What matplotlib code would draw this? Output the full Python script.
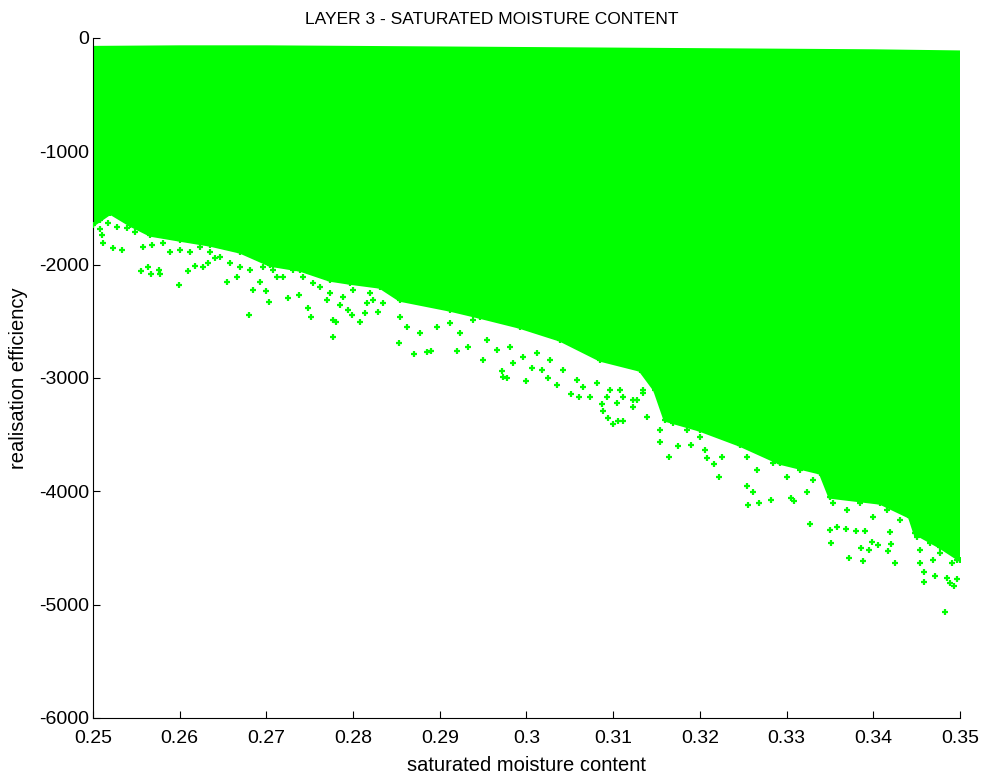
"""Layer 3 scatter: saturated moisture content vs realisation efficiency."""

import matplotlib
matplotlib.use("Agg")
import matplotlib.pyplot as plt
from matplotlib.ticker import FuncFormatter

plt.rcParams["font.family"] = ["Liberation Sans", "DejaVu Sans"]
plt.rcParams["axes.unicode_minus"] = False

GREEN = "#00ff00"

# top edge of the dense cloud
upper_x = [0.2500, 0.2600, 0.2700, 0.2800, 0.2900, 0.3000, 0.3100, 0.3200, 0.3300, 0.3400, 0.3500]
upper_y = [-85, -80, -80, -85, -90, -95, -100, -105, -110, -115, -125]

# bottom edge of the dense cloud (where points merge into a solid mass)
lower_x = [0.2500, 0.2520, 0.2543, 0.2566, 0.2600, 0.2635, 0.2670, 0.2704, 0.2739, 0.2773,
           0.2796, 0.2831, 0.2854, 0.2912, 0.2946, 0.2992, 0.3039, 0.3085, 0.3131, 0.3148,
           0.3160, 0.3200, 0.3246, 0.3292, 0.3339, 0.3350, 0.3408, 0.3442, 0.3448, 0.3477,
           0.3500]
lower_y = [-1650, -1544, -1650, -1738, -1782, -1826, -1888, -2003, -2047, -2135,
           -2162, -2197, -2312, -2400, -2462, -2550, -2665, -2841, -2930, -3106,
           -3371, -3459, -3591, -3750, -3838, -4050, -4103, -4227, -4368, -4491,
           -4606]

# ragged fringe just under the dense cloud
fringe_x = [0.2508, 0.2517, 0.2528, 0.2539, 0.2548, 0.2558, 0.2568, 0.2581, 0.2589, 0.2600,
            0.2612, 0.2623, 0.2635, 0.2646, 0.2658, 0.2670, 0.2681, 0.2696, 0.2708, 0.2719,
            0.2731, 0.2742, 0.2754, 0.2762, 0.2773, 0.2788, 0.2800, 0.2816, 0.2823, 0.2820,
            0.2835, 0.2854, 0.2862, 0.2877, 0.2897, 0.2912, 0.2923, 0.2938, 0.2954, 0.2966,
            0.2981, 0.2996, 0.3012, 0.3027, 0.3042, 0.3058, 0.3065, 0.3081, 0.3096, 0.3111,
            0.3127, 0.3134, 0.3093, 0.3108, 0.3123, 0.3134, 0.3154, 0.3169, 0.3185, 0.3200,
            0.3215, 0.3231, 0.3254, 0.3266, 0.3284, 0.3300, 0.3315, 0.3330, 0.3354, 0.3370,
            0.3385, 0.3400, 0.3416, 0.3431, 0.3450, 0.3454, 0.3465, 0.3477, 0.3488, 0.3497]
fringe_y = [-1606, -1632, -1668, -1677, -1712, -1844, -1826, -1809, -1888, -1871,
            -1888, -1844, -1888, -1932, -1985, -2021, -2047, -2021, -2047, -2109,
            -2047, -2109, -2162, -2197, -2250, -2285, -2224, -2338, -2312, -2250,
            -2338, -2462, -2550, -2603, -2550, -2515, -2603, -2488, -2665, -2753,
            -2727, -2815, -2780, -2841, -2930, -3018, -3080, -3044, -3106, -3168,
            -3194, -3106, -3168, -3106, -3194, -3132, -3459, -3397, -3459, -3521,
            -3459, -3521, -3697, -3812, -3750, -3874, -3812, -3900, -4103, -4165,
            -4103, -4227, -4165, -4253, -4403, -4518, -4456, -4544, -4518, -4606]

# sparse realisations further below the cloud
sparse_x = [0.2508, 0.2510, 0.2512, 0.2523, 0.2533, 0.2555, 0.2563, 0.2567, 0.2576, 0.2577,
            0.2599, 0.2610, 0.2618, 0.2627, 0.2633, 0.2641, 0.2655, 0.2666, 0.2680, 0.2685,
            0.2693, 0.2700, 0.2703, 0.2712, 0.2725, 0.2738, 0.2748, 0.2751, 0.2777, 0.2780,
            0.2777, 0.2794, 0.2808, 0.2814, 0.2829, 0.2770, 0.2785, 0.2799, 0.2853, 0.2870,
            0.2885, 0.2890, 0.2920, 0.2933, 0.2950, 0.2972, 0.2973, 0.2977, 0.2984, 0.2999,
            0.3006, 0.3018, 0.3025, 0.3035, 0.3051, 0.3061, 0.3073, 0.3087, 0.3088, 0.3094,
            0.3100, 0.3106, 0.3111, 0.3139, 0.3104, 0.3123, 0.3154, 0.3164, 0.3175, 0.3190,
            0.3206, 0.3208, 0.3216, 0.3222, 0.3226, 0.3254, 0.3255, 0.3261, 0.3268, 0.3282,
            0.3305, 0.3308, 0.3323, 0.3327, 0.3350, 0.3351, 0.3358, 0.3368, 0.3372, 0.3380,
            0.3386, 0.3388, 0.3390, 0.3395, 0.3399, 0.3406, 0.3417, 0.3421, 0.3425, 0.3419,
            0.3459, 0.3459, 0.3471, 0.3485, 0.3488, 0.3493, 0.3497, 0.3483, 0.3454, 0.3469,
            0.3491]
sparse_y = [-1685, -1738, -1809, -1853, -1871, -2056, -2021, -2082, -2047, -2082,
            -2180, -2056, -2012, -2021, -1985, -1941, -2153, -2109, -2444, -2224,
            -2153, -2232, -2330, -2109, -2294, -2268, -2382, -2462, -2488, -2506,
            -2638, -2400, -2506, -2427, -2418, -2312, -2356, -2444, -2691, -2788,
            -2771, -2762, -2762, -2727, -2841, -2938, -2991, -3000, -2868, -3027,
            -2912, -2930, -3000, -3062, -3141, -3168, -3168, -3230, -3291, -3353,
            -3406, -3380, -3380, -3344, -3221, -3256, -3565, -3697, -3600, -3591,
            -3635, -3706, -3759, -3874, -3697, -3953, -4121, -4006, -4103, -4077,
            -4059, -4086, -4006, -4288, -4341, -4456, -4315, -4333, -4588, -4350,
            -4500, -4615, -4350, -4518, -4447, -4474, -4527, -4465, -4632, -4359,
            -4800, -4712, -4747, -4765, -4809, -4836, -4774, -5065, -4632, -4606,
            -4632]

x_ticks = [0.25, 0.26, 0.27, 0.28, 0.29, 0.30, 0.31, 0.32, 0.33, 0.34, 0.35]
y_ticks = [0, -1000, -2000, -3000, -4000, -5000, -6000]

fig = plt.figure(figsize=(9.85, 7.8), dpi=100)
ax = fig.add_axes([0.0944, 0.0795, 0.8802, 0.8718])

poly_x = upper_x + lower_x[::-1]
poly_y = upper_y + lower_y[::-1]
ax.fill(poly_x, poly_y, color=GREEN, lw=2.5, ec=GREEN, zorder=2)
marker_kw = dict(color=GREEN, ms=4, mew=1.6, ls="none", zorder=3)
ax.plot(lower_x, lower_y, "+", **marker_kw)
ax.plot(fringe_x, fringe_y, "+", **marker_kw)
ax.plot(sparse_x, sparse_y, "+", **marker_kw)

ax.set_xlim(0.25, 0.35)
ax.set_ylim(-6000, 0)
ax.set_xticks(x_ticks)
ax.set_yticks(y_ticks)
ax.xaxis.set_major_formatter(FuncFormatter(lambda v, p: "%g" % round(v, 4)))
ax.yaxis.set_major_formatter(FuncFormatter(lambda v, p: "%d" % v))
ax.tick_params(direction="in", length=5, width=0.8, labelsize=14)
ax.tick_params(axis="x", pad=9)
ax.tick_params(axis="y", pad=3)

for side in ("top", "right"):
    ax.spines[side].set_visible(False)
for side in ("left", "bottom"):
    ax.spines[side].set_linewidth(0.8)

ax.set_title("LAYER 3 - SATURATED MOISTURE CONTENT", fontsize=12.5, pad=10, x=0.46)
ax.set_xlabel("saturated moisture content", fontsize=14.5, labelpad=6)
ax.set_ylabel("realisation efficiency", fontsize=14.5, labelpad=8)

fig.savefig("out.png", dpi=100)
